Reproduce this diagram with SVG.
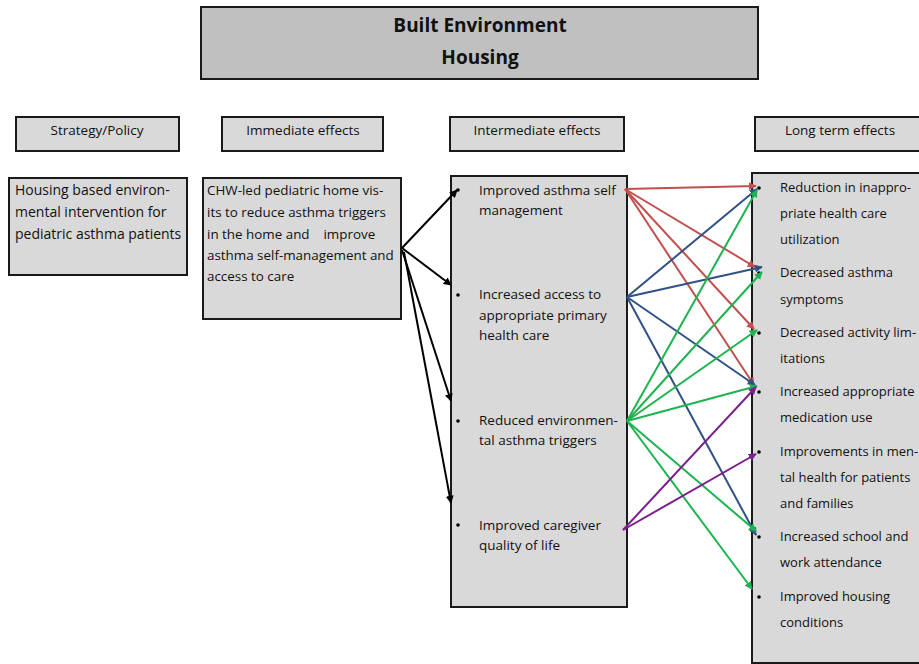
<svg xmlns="http://www.w3.org/2000/svg" width="919" height="664" viewBox="0 0 919 664">
<style>
.box{fill:#d9d9d9;stroke:#1a1a1a;stroke-width:2}
.title{fill:#c0c0c0;stroke:#1a1a1a;stroke-width:2}
text{font-family:"Open Sans","Liberation Sans",sans-serif;fill:#111}
.h{font-size:13.5px;text-anchor:middle}
.t{font-size:14px}
.c{font-size:13.4px}
.m{font-size:13.5px}
.l{font-size:13px}
.b{font-size:19px;font-weight:bold;text-anchor:middle}
.dot{fill:#000}
.k{stroke:#000;stroke-width:2;fill:none}
.r{stroke:#c0504d;stroke-width:2;fill:none}
.u{stroke:#2f5185;stroke-width:2;fill:none}
.g{stroke:#1db34f;stroke-width:2;fill:none}
.p{stroke:#7b1f8f;stroke-width:2;fill:none}
</style>
<defs>
<marker id="ak" viewBox="0 0 10 10" refX="9" refY="5" markerWidth="8" markerHeight="8" markerUnits="userSpaceOnUse" orient="auto"><path d="M0,0L10,5L0,10z" fill="#000"/></marker>
<marker id="ar" viewBox="0 0 10 10" refX="9" refY="5" markerWidth="8" markerHeight="8" markerUnits="userSpaceOnUse" orient="auto"><path d="M0,0L10,5L0,10z" fill="#c0504d"/></marker>
<marker id="au" viewBox="0 0 10 10" refX="9" refY="5" markerWidth="8" markerHeight="8" markerUnits="userSpaceOnUse" orient="auto"><path d="M0,0L10,5L0,10z" fill="#2f5185"/></marker>
<marker id="ag" viewBox="0 0 10 10" refX="9" refY="5" markerWidth="8" markerHeight="8" markerUnits="userSpaceOnUse" orient="auto"><path d="M0,0L10,5L0,10z" fill="#1db34f"/></marker>
<marker id="ap" viewBox="0 0 10 10" refX="9" refY="5" markerWidth="8" markerHeight="8" markerUnits="userSpaceOnUse" orient="auto"><path d="M0,0L10,5L0,10z" fill="#7b1f8f"/></marker>
</defs>
<rect width="919" height="664" fill="#fff"/>

<g id="title">
<rect class="title" x="201" y="7" width="557" height="72"/>
<text class="b" x="480" y="32">Built Environment</text>
<text class="b" x="480" y="64">Housing</text>
</g>

<g id="h-strategy"><rect class="box" x="16" y="117" width="163" height="34"/><text class="h" x="97" y="135">Strategy/Policy</text></g>
<g id="h-immediate"><rect class="box" x="222" y="117" width="161" height="34"/><text class="h" x="303" y="135">Immediate effects</text></g>
<g id="h-intermediate"><rect class="box" x="450" y="117" width="174" height="34"/><text class="h" x="537" y="135">Intermediate effects</text></g>
<g id="h-longterm"><rect class="box" x="755" y="117" width="170" height="34"/><text class="h" x="840" y="135">Long term effects</text></g>

<g id="strategy">
<rect class="box" x="9" y="178" width="178" height="97"/>
<text class="t" x="15" y="195">Housing based environ-</text>
<text class="t" x="15" y="217">mental intervention for</text>
<text class="t" x="15" y="239">pediatric asthma patients</text>
</g>

<g id="immediate">
<rect class="box" x="203" y="178" width="198" height="141"/>
<text class="c" x="207" y="195">CHW-led pediatric home vis-</text>
<text class="c" x="207" y="217">its to reduce asthma triggers</text>
<text class="c" x="207" y="239">in the home and&#160;&#160;&#160; improve</text>
<text class="c" x="207" y="260">asthma self-management and</text>
<text class="c" x="207" y="281">access to care</text>
</g>

<g id="intermediate">
<rect class="box" x="451" y="176" width="176" height="431"/>
<circle class="dot" cx="458" cy="190" r="1.8"/>
<text class="m" x="479" y="195">Improved asthma self</text>
<text class="m" x="479" y="215">management</text>
<circle class="dot" cx="458" cy="295" r="1.8"/>
<text class="m" x="479" y="299">Increased access to</text>
<text class="m" x="479" y="320">appropriate primary</text>
<text class="m" x="479" y="340">health care</text>
<circle class="dot" cx="458" cy="421" r="1.8"/>
<text class="m" x="479" y="425">Reduced environmen-</text>
<text class="m" x="479" y="445">tal asthma triggers</text>
<circle class="dot" cx="458" cy="525" r="1.8"/>
<text class="m" x="479" y="530">Improved caregiver</text>
<text class="m" x="479" y="550">quality of life</text>
</g>

<g id="longterm">
<rect class="box" x="752" y="173" width="180" height="490"/>
<circle class="dot" cx="759" cy="188" r="1.8"/>
<text class="l" x="780" y="192">Reduction in inappro-</text>
<text class="l" x="780" y="218">priate health care</text>
<text class="l" x="780" y="244">utilization</text>
<circle class="dot" cx="759" cy="273" r="1.8"/>
<text class="l" x="780" y="277">Decreased asthma</text>
<text class="l" x="780" y="304">symptoms</text>
<circle class="dot" cx="759" cy="333" r="1.8"/>
<text class="l" x="780" y="337">Decreased activity lim-</text>
<text class="l" x="780" y="363">itations</text>
<circle class="dot" cx="759" cy="392" r="1.8"/>
<text class="l" x="780" y="396">Increased appropriate</text>
<text class="l" x="780" y="422">medication use</text>
<circle class="dot" cx="759" cy="452" r="1.8"/>
<text class="l" x="780" y="456">Improvements in men-</text>
<text class="l" x="780" y="482">tal health for patients</text>
<text class="l" x="780" y="508">and families</text>
<circle class="dot" cx="759" cy="537" r="1.8"/>
<text class="l" x="780" y="541">Increased school and</text>
<text class="l" x="780" y="567">work attendance</text>
<circle class="dot" cx="759" cy="597" r="1.8"/>
<text class="l" x="780" y="601">Improved housing</text>
<text class="l" x="780" y="627">conditions</text>
</g>

<g id="connectors">
<line class="k" x1="402" y1="248" x2="457" y2="190" marker-end="url(#ak)"/>
<line class="k" x1="402" y1="248" x2="451" y2="285" marker-end="url(#ak)"/>
<line class="k" x1="402" y1="250" x2="451" y2="401" marker-end="url(#ak)"/>
<line class="k" x1="404" y1="252" x2="451" y2="503" marker-end="url(#ak)"/>

<line class="r" x1="625" y1="189" x2="756" y2="186" marker-end="url(#ar)"/>
<line class="r" x1="625" y1="189" x2="755" y2="267" marker-end="url(#ar)"/>
<line class="r" x1="625" y1="189" x2="754" y2="329" marker-end="url(#ar)"/>
<line class="r" x1="625" y1="189" x2="754" y2="385" marker-end="url(#ar)"/>

<line class="u" x1="627" y1="297" x2="757" y2="189" marker-end="url(#au)"/>
<line class="u" x1="627" y1="297" x2="762" y2="267" marker-end="url(#au)"/>
<line class="u" x1="627" y1="297" x2="755" y2="385" marker-end="url(#au)"/>
<line class="u" x1="627" y1="297" x2="756" y2="535" marker-end="url(#au)"/>

<line class="g" x1="627" y1="421" x2="757" y2="190" marker-end="url(#ag)"/>
<line class="g" x1="627" y1="421" x2="762" y2="272" marker-end="url(#ag)"/>
<line class="g" x1="627" y1="421" x2="757" y2="330" marker-end="url(#ag)"/>
<line class="g" x1="627" y1="421" x2="757" y2="386" marker-end="url(#ag)"/>
<line class="g" x1="627" y1="421" x2="756" y2="531" marker-end="url(#ag)"/>
<line class="g" x1="627" y1="421" x2="752" y2="589" marker-end="url(#ag)"/>

<line class="p" x1="623" y1="530" x2="756" y2="387" marker-end="url(#ap)"/>
<line class="p" x1="623" y1="530" x2="756" y2="454" marker-end="url(#ap)"/>
</g>
</svg>
